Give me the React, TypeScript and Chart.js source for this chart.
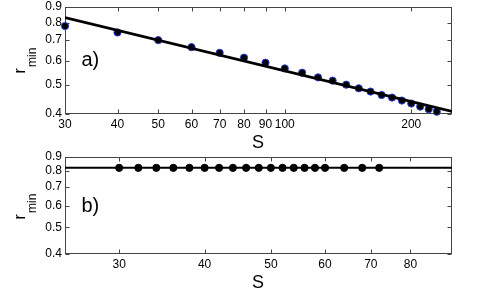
import React, { useEffect, useRef } from 'react';
import { Chart, registerables } from 'chart.js';
Chart.register(...registerables);

// Panel a) data
const aS = [30, 40, 50, 60, 70, 80, 90, 100, 110, 120, 130, 140, 150, 160, 170, 180, 190, 200, 210, 220, 230];
const aR = [0.779, 0.742, 0.7, 0.664, 0.636, 0.613, 0.59, 0.565, 0.547, 0.528, 0.515, 0.4995, 0.486, 0.474, 0.462, 0.453, 0.443, 0.433, 0.423, 0.415, 0.407];
const aFitS = [30, 250];
const aFitR = [0.83, 0.408];
const aXTicks = [30, 40, 50, 60, 70, 80, 90, 100, 200];

// Panel b) data
const bS = [30, 32, 34, 36, 38, 40, 42, 44, 46, 48, 50, 52, 54, 56, 58, 60, 64, 68, 72];
const bR = [0.822, 0.822, 0.822, 0.822, 0.822, 0.822, 0.822, 0.822, 0.822, 0.822, 0.822, 0.822, 0.822, 0.822, 0.822, 0.822, 0.822, 0.822, 0.822];
const bFitS = [25, 92];
const bFitR = [0.822, 0.822];
const bXTicks = [30, 40, 50, 60, 70, 80];

const yTicks = [0.4, 0.5, 0.6, 0.7, 0.8, 0.9];

const FONT = "'Liberation Sans', Arial, Helvetica, sans-serif";

type PanelProps = {
  top: number;
  height: number;
  xMin: number;
  xMax: number;
  xTicks: number[];
  ptsS: number[];
  ptsR: number[];
  fitS: number[];
  fitR: number[];
  pointBorder: string;
  fitWidth: number;
  padTop: number;
  xAxisH: number;
  label: string;
  labelBaseline: number;
  sBaseline: number;
  rStart: number;
};

function Panel(p: PanelProps) {
  const ref = useRef<HTMLCanvasElement | null>(null);
  useEffect(() => {
    if (!ref.current) return;
    const framePlugin = {
      id: 'frame',
      beforeDatasetsDraw(chart: any) {
        const { ctx, chartArea: ca, scales } = chart;
        const x = scales.x, y = scales.y;
        ctx.save();
        ctx.strokeStyle = '#444';
        ctx.lineWidth = 1;
        const l = Math.round(ca.left) + 0.5, r = Math.round(ca.right) - 0.5;
        const t = Math.round(ca.top) + 0.5, b = Math.round(ca.bottom) - 0.5;
        ctx.strokeRect(l, t, r - l, b - t);
        ctx.beginPath();
        for (const v of p.xTicks) {
          const px = Math.round(x.getPixelForValue(v)) + 0.5;
          ctx.moveTo(px, b); ctx.lineTo(px, b - 4);
          ctx.moveTo(px, t); ctx.lineTo(px, t + 4);
        }
        for (const v of yTicks) {
          const py = Math.round(y.getPixelForValue(v)) + 0.5;
          ctx.moveTo(l, py); ctx.lineTo(l + 4, py);
          ctx.moveTo(r, py); ctx.lineTo(r - 4, py);
        }
        ctx.stroke();
        ctx.restore();
      },
      afterDraw(chart: any) {
        const { ctx } = chart;
        ctx.save();
        ctx.fillStyle = '#000';
        ctx.textBaseline = 'alphabetic';
        // panel label
        ctx.font = `20px ${FONT}`;
        ctx.textAlign = 'left';
        ctx.fillText(p.label, 81.5, p.labelBaseline);
        // S axis title
        ctx.font = `18px ${FONT}`;
        ctx.textAlign = 'center';
        ctx.fillText('S', 258, p.sBaseline);
        // r_min
        ctx.save();
        ctx.translate(25, p.rStart);
        ctx.rotate(-Math.PI / 2);
        ctx.textAlign = 'left';
        ctx.font = `16px ${FONT}`;
        ctx.fillText('r', 0, 0);
        ctx.restore();
        ctx.save();
        ctx.translate(36, p.rStart - 6.5);
        ctx.rotate(-Math.PI / 2);
        ctx.textAlign = 'left';
        ctx.font = `12px ${FONT}`;
        ctx.fillText('min', 0, 0);
        ctx.restore();
        ctx.restore();
      },
    };

    const chart = new Chart(ref.current, {
      type: 'scatter',
      data: {
        datasets: [
          {
            data: p.fitS.map((s, i) => ({ x: s, y: p.fitR[i] })),
            showLine: true,
            borderColor: '#000',
            borderWidth: p.fitWidth,
            pointRadius: 0,
            fill: false,
          },
          {
            data: p.ptsS.map((s, i) => ({ x: s, y: p.ptsR[i] })),
            showLine: false,
            pointRadius: 3.6,
            pointBackgroundColor: '#000',
            pointBorderColor: p.pointBorder,
            pointBorderWidth: 1,
            clip: false,
          } as any,
        ],
      },
      options: {
        responsive: false,
        maintainAspectRatio: false,
        animation: false,
        events: [],
        layout: { padding: { left: 0, right: 46, top: p.padTop, bottom: 0 } },
        plugins: { legend: { display: false }, tooltip: { enabled: false } },
        scales: {
          x: {
            type: 'logarithmic',
            min: p.xMin,
            max: p.xMax,
            grid: { display: false, drawTicks: false },
            border: { display: false },
            afterBuildTicks: (scale: any) => {
              scale.ticks = p.xTicks.map((v) => ({ value: v }));
            },
            afterFit: (scale: any) => {
              scale.height = p.xAxisH;
              scale.paddingLeft = 0;
              scale.paddingRight = 0;
            },
            ticks: {
              autoSkip: false,
              maxRotation: 0,
              padding: 3,
              color: '#000',
              font: { family: FONT, size: 12 },
              callback: (v: any) => String(v),
            },
          },
          y: {
            type: 'logarithmic',
            min: 0.4,
            max: 0.9,
            grid: { display: false, drawTicks: false },
            border: { display: false },
            afterBuildTicks: (scale: any) => {
              scale.ticks = yTicks.map((v) => ({ value: v }));
            },
            afterFit: (scale: any) => {
              scale.width = 65;
              scale.paddingTop = 0;
              scale.paddingBottom = 0;
            },
            ticks: {
              autoSkip: false,
              padding: 3,
              color: '#000',
              font: { family: FONT, size: 12 },
              callback: (v: any) => String(v),
            },
          },
        },
      } as any,
      plugins: [framePlugin],
    });
    return () => chart.destroy();
  }, []);
  return (
    <canvas
      ref={ref}
      width={498}
      height={p.height}
      style={{ position: 'absolute', left: 0, top: p.top, width: 498, height: p.height }}
    />
  );
}

export default function App() {
  return (
    <div style={{ position: 'absolute', left: 0, top: 0, width: 498, height: 293, background: '#fff' }}>
      <Panel
        top={0}
        height={150}
        xMin={30}
        xMax={250}
        xTicks={aXTicks}
        ptsS={aS}
        ptsR={aR}
        fitS={aFitS}
        fitR={aFitR}
        pointBorder="#2a3fd6"
        fitWidth={2.8}
        padTop={7}
        xAxisH={36}
        label="a)"
        labelBaseline={66}
        sBaseline={148}
        rStart={73.5}
      />
      <Panel
        top={150}
        height={143}
        xMin={25}
        xMax={92}
        xTicks={bXTicks}
        ptsS={bS}
        ptsR={bR}
        fitS={bFitS}
        fitR={bFitR}
        pointBorder="#000"
        fitWidth={2}
        padTop={7}
        xAxisH={39}
        label="b)"
        labelBaseline={61.5}
        sBaseline={138}
        rStart={69.5}
      />
    </div>
  );
}
